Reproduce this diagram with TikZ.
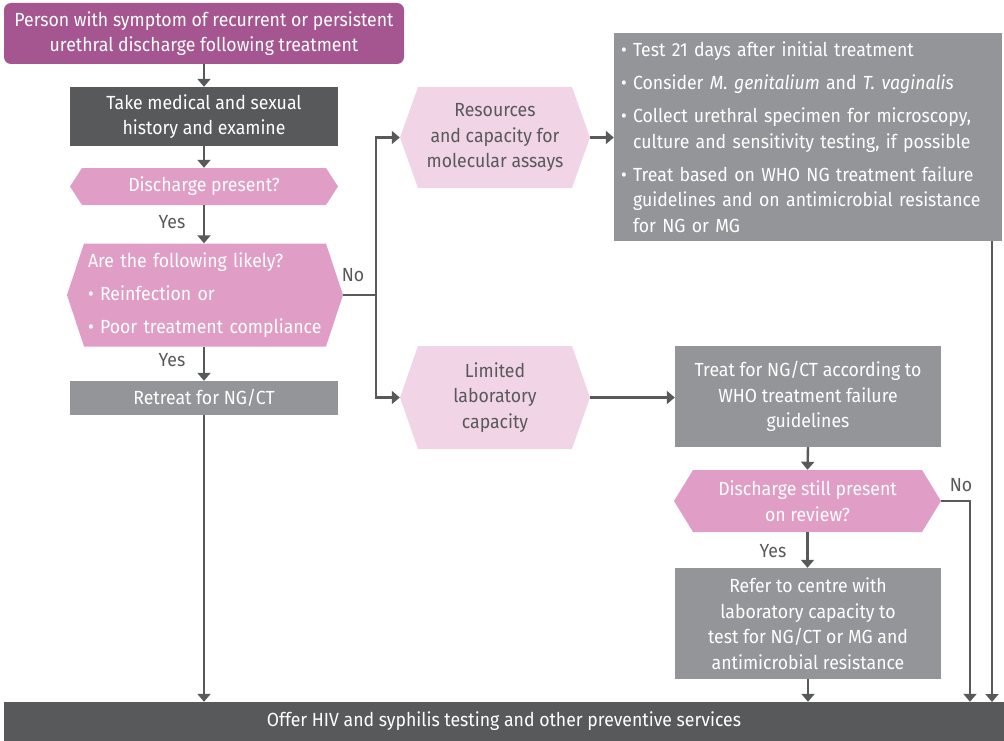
\documentclass[tikz,border=0pt]{standalone}
\usepackage{fontspec}
\setmainfont{Fira Sans}[FakeStretch=0.93]
\usetikzlibrary{arrows.meta}
\definecolor{magbox}{HTML}{A5558F}
\definecolor{darkbox}{HTML}{58595B}
\definecolor{graybox}{HTML}{939598}
\definecolor{pinkhex}{HTML}{E09EC6}
\definecolor{lighthex}{HTML}{F1D5E6}
\definecolor{linecol}{HTML}{58595B}
\tikzset{
  every node/.style={font=\fontsize{19}{25.5}\selectfont},
  box/.style={rectangle, inner sep=0pt, align=center, text=white, fill=#1},
  hex/.style n args={3}{rectangle, inner sep=0pt, align=center, text=#3,
    path picture={\fill[#1] ([xshift=#2]path picture bounding box.north west)
      -- ([xshift=-#2]path picture bounding box.north east)
      -- (path picture bounding box.east)
      -- ([xshift=-#2]path picture bounding box.south east)
      -- ([xshift=#2]path picture bounding box.south west)
      -- (path picture bounding box.west) -- cycle;}},
  conn/.style={draw=linecol, line width=2.4pt},
  arr/.style={conn, -{Triangle[width=13pt,length=8pt]}},
  lab/.style={text=darkbox, inner sep=0pt}
}
\begin{document}
\begin{tikzpicture}[x=1pt,y=-1pt]
\useasboundingbox (0,0) rectangle (1004,741);
% nodes
\node[box=magbox, rounded corners=7pt, minimum width=400pt, minimum height=61pt] (start) at (204,33.5)
  {Person with symptom of recurrent or persistent\\urethral discharge following treatment};
\node[box=darkbox, minimum width=268pt, minimum height=59pt] (hist) at (204,116.5)
  {Take medical and sexual\\history and examine};
\node[hex={pinkhex}{12pt}{white}, minimum width=268pt, minimum height=37pt] (dp) at (204,186.5)
  {Discharge present?};
\node[hex={pinkhex}{17pt}{white}, minimum width=276pt, minimum height=103pt, text width=234pt, align=left,
  font=\fontsize{19}{33}\selectfont] (likely) at (205,295)
  {Are the following likely?\\• Reinfection or\\• Poor treatment compliance};
\node[box=graybox, minimum width=268pt, minimum height=34pt] (retreat) at (204,398)
  {Retreat for NG/CT};
\node[hex={lighthex}{18pt}{darkbox}, minimum width=190pt, minimum height=101pt] (res) at (495,137.5)
  {Resources\\and capacity for\\molecular assays};
\node[box=graybox, minimum width=388pt, minimum height=208pt, text width=374pt, align=left] (tests) at (808,137)
  {• Test 21 days after initial treatment\\[7.5pt]
   • Consider \textit{M. genitalium} and \textit{T. vaginalis}\\[7.5pt]
   • Collect urethral specimen for microscopy,\\\hphantom{• }culture and sensitivity testing, if possible\\[7.5pt]
   • Treat based on WHO NG treatment failure\\\hphantom{• }guidelines and on antimicrobial resistance\\\hphantom{• }for NG or MG};
\node[hex={lighthex}{18pt}{darkbox}, minimum width=190pt, minimum height=103pt] (lim) at (495,397.5)
  {Limited\\laboratory\\capacity};
\node[box=graybox, minimum width=266pt, minimum height=101pt] (treat) at (808,396.5)
  {Treat for NG/CT according to\\WHO treatment failure\\guidelines};
\node[hex={pinkhex}{19pt}{white}, minimum width=267pt, minimum height=62pt] (still) at (807.5,501)
  {Discharge still present\\on review?};
\node[box=graybox, minimum width=266pt, minimum height=111pt] (refer) at (808,623.5)
  {Refer to centre with\\laboratory capacity to\\test for NG/CT or MG and\\antimicrobial resistance};
\node[box=darkbox, minimum width=1000pt, minimum height=39pt] (offer) at (504,721.5)
  {Offer HIV and syphilis testing and other preventive services};
% coordinates
\coordinate (nojoin) at (376,295);
\coordinate (stillno) at (970,501);
% connectors
\draw[arr] (start.south) -- (hist.north);
\draw[arr] (hist.south) -- (dp.north);
\draw[arr] (dp.south) -- (dp.south |- likely.north);
\draw[arr] (dp.south |- likely.south) -- (retreat.north);
\draw[arr] (retreat.south) -- (retreat.south |- offer.north);
\draw[conn] (likely.east) -- (nojoin);
\draw[arr] (nojoin) |- (res.west);
\draw[arr] (nojoin) |- (lim.west);
\draw[arr] (res.east) -- (res.east -| tests.west);
\draw[arr] (992,241) -- (992,702);
\draw[arr] (lim.east) -- (lim.east -| treat.west);
\draw[arr] (treat.south) -- (still.north);
\draw[arr] (still.south) -- (still.south |- refer.north);
\draw[arr] (still.east) -- (stillno) -- (stillno |- offer.north);
\draw[arr] (refer.south) -- (refer.south |- offer.north);
% labels
\node[lab] (yes1) at (172,222) {Yes};
\node[lab] (yes2) at (172,360) {Yes};
\node[lab] (no1) at (353,275) {No};
\node[lab] (no2) at (961,485) {No};
\node[lab] (yes3) at (773,551) {Yes};
\end{tikzpicture}
\end{document}
